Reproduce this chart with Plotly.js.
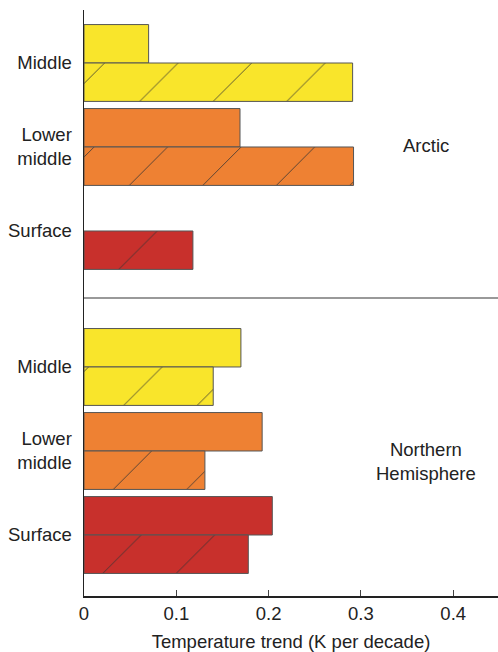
<!DOCTYPE html>
<html>
<head>
<meta charset="utf-8">
<script src="https://cdn.plot.ly/plotly-3.0.1.min.js"></script>
<style>html,body{margin:0;padding:0;background:#fff;}#chart{width:498px;height:652px;}</style>
</head>
<body>
<div id="chart"></div>
<script>
// Data
const categories = ['Middle', 'Lower<br>middle', 'Surface'];
const arcticSolid = [0.070, 0.169, null];
const arcticHatched = [0.291, 0.292, 0.118];
const nhSolid = [0.170, 0.193, 0.204];
const nhHatched = [0.140, 0.131, 0.178];
const groupLabels = ['Arctic', 'Northern<br>Hemisphere'];
const xTickVals = [0, 0.1, 0.2, 0.3, 0.4];
const xTickText = ['0', '0.1', '0.2', '0.3', '0.4'];

const colors = ['#f9e52b', '#ee8133', '#c8302c'];
const lineStyle = {color: '#555', width: 1};
const font = 'Liberation Sans, Arial, sans-serif';
const fs = 18.5;

// one trace per category so each bar has a scalar colour; offsetgroup keeps solid/hatched slots
function barTraces(vals, ya, isHatched) {
  return categories.map((cat, i) => {
    const marker = {color: colors[i], line: lineStyle};
    if (isHatched) {
      marker.pattern = {shape: '/', fillmode: 'replace', bgcolor: colors[i], fgcolor: '#333',
        fgopacity: 1, size: 52, solidity: 0.015};
    }
    return {type: 'bar', orientation: 'h', y: [cat], x: [vals[i]], yaxis: ya, xaxis: 'x',
      offsetgroup: isHatched ? 'hatched' : 'solid', marker: marker,
      hoverinfo: 'x', showlegend: false};
  });
}

const data = [].concat(
  barTraces(arcticSolid, 'y', false), barTraces(arcticHatched, 'y', true),
  barTraces(nhSolid, 'y2', false), barTraces(nhHatched, 'y2', true)
);

const split = 298 / 586;
const yCommon = {
  type: 'category', categoryorder: 'array', categoryarray: categories,
  showline: true, linecolor: '#222', linewidth: 1.5,
  ticks: 'outside', ticklen: 7, tickcolor: 'rgba(0,0,0,0)', showgrid: false, zeroline: false,
  tickfont: {family: font, size: fs, color: '#222'}, fixedrange: true
};

const layout = {
  width: 498, height: 652,
  margin: {l: 84, r: 0, t: 10, b: 56},
  paper_bgcolor: '#fff', plot_bgcolor: '#fff',
  barmode: 'group', bargap: 0.085, bargroupgap: 0,
  font: {family: font, color: '#222'},
  xaxis: {
    range: [0, 0.4485], showline: true, linecolor: '#222', linewidth: 1.5,
    ticks: 'inside', ticklen: 6, tickcolor: '#444', tickvals: xTickVals, ticktext: xTickText,
    showgrid: false, zeroline: false, anchor: 'y2',
    tickfont: {family: font, size: fs, color: '#222'},
    title: {text: 'Temperature trend (K per decade)', font: {family: font, size: fs, color: '#222'}, standoff: 12}
  },
  yaxis: Object.assign({}, yCommon, {domain: [split, 1], range: [2.798, -0.631]}),
  yaxis2: Object.assign({}, yCommon, {domain: [0, split], range: [2.726, -0.821]}),
  shapes: [{type: 'line', xref: 'paper', yref: 'paper', x0: 0, x1: 1, y0: split, y1: split,
    line: {color: '#777', width: 1.5}}],
  annotations: [
    {text: groupLabels[0], xref: 'paper', yref: 'paper', x: (426 - 84) / 414, y: (596 - 145) / 586,
     xanchor: 'center', yanchor: 'middle',
     showarrow: false, font: {family: font, size: fs, color: '#222'}},
    {text: groupLabels[1], xref: 'paper', yref: 'paper', x: (426 - 84) / 414, y: (596 - 461) / 586,
     xanchor: 'center', yanchor: 'middle',
     showarrow: false, font: {family: font, size: fs, color: '#222'}}
  ]
};

Plotly.newPlot('chart', data, layout, {displayModeBar: false, staticPlot: true});
</script>
</body>
</html>
